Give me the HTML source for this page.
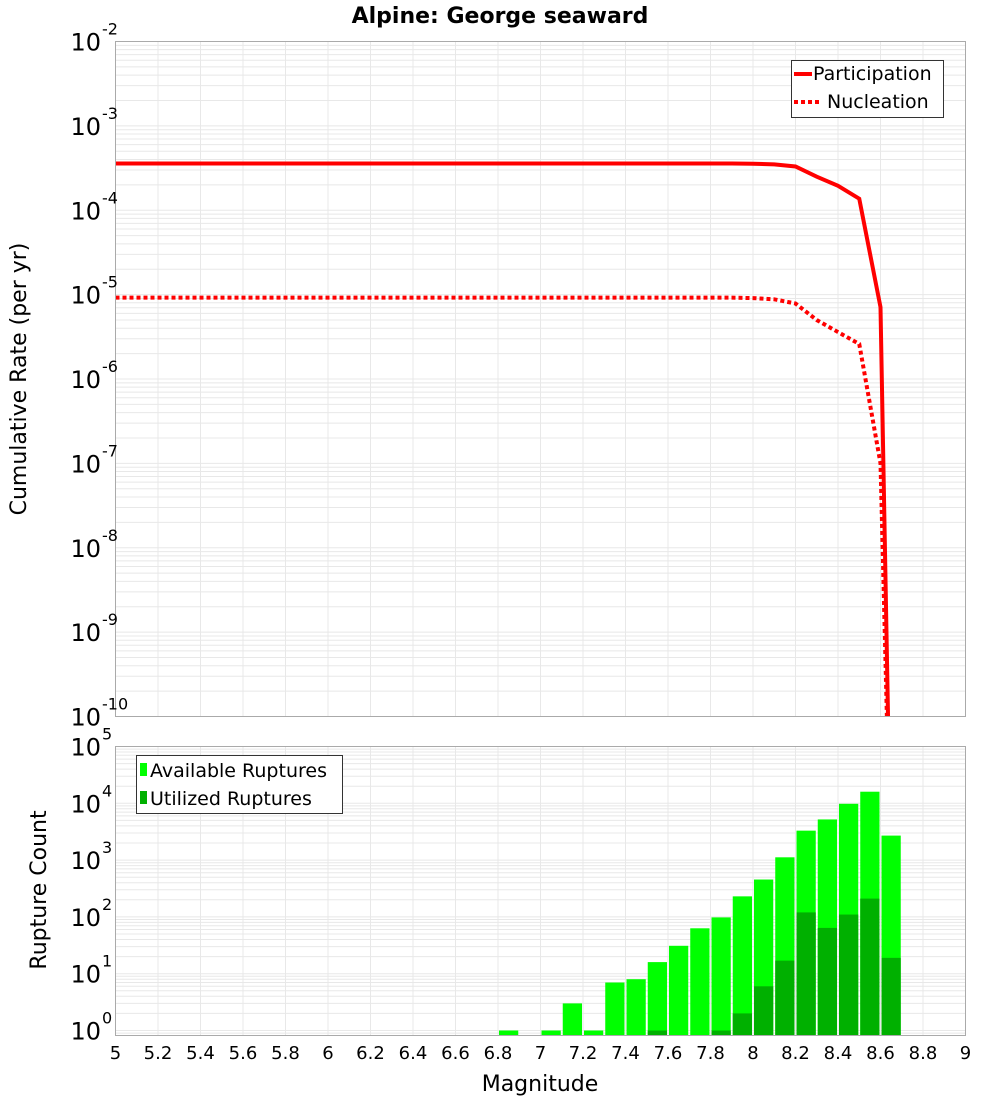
<!DOCTYPE html>
<html><head><meta charset="utf-8"><style>
body{margin:0;background:#fff;}
svg{display:block;font-family:"DejaVu Sans","Liberation Sans",sans-serif;}
</style></head><body>
<svg id="chart" width="1000" height="1100" viewBox="0 0 1000 1100" xmlns="http://www.w3.org/2000/svg">
<text x="500" y="23" text-anchor="middle" font-size="22" font-weight="bold">Alpine: George seaward</text>
<g id="topPanel"></g>
<g id="botPanel"></g>
<text x="540" y="1091" text-anchor="middle" font-size="22">Magnitude</text>
<text transform="translate(26,379) rotate(-90)" text-anchor="middle" font-size="22">Cumulative Rate (per yr)</text>
<text transform="translate(46,890) rotate(-90)" text-anchor="middle" font-size="22">Rupture Count</text>
</svg>
<script>
const lineMags=[5.0,7.9,8.0,8.1,8.2,8.3,8.4,8.5,8.6,8.65];
const participation=[3.58e-4,3.58e-4,3.56e-4,3.5e-4,3.3e-4,2.5e-4,1.95e-4,1.37e-4,7.1e-6,1e-12];
const nucleation=[9.2e-6,9.2e-6,9.1e-6,8.8e-6,7.85e-6,5.0e-6,3.6e-6,2.6e-6,1e-7,1e-12];
const barMags=[6.85,6.95,7.05,7.15,7.25,7.35,7.45,7.55,7.65,7.75,7.85,7.95,8.05,8.15,8.25,8.35,8.45,8.55,8.65];
const available=[1,0,1,3,1,7,8,16,31,63,98,230,455,1120,3300,5200,9800,16000,2700];
const utilized=[0,0,0,0,0,0,0,1,0,0,1,2,6,17,120,64,110,210,19];
const xTicks=[5,5.2,5.4,5.6,5.8,6,6.2,6.4,6.6,6.8,7,7.2,7.4,7.6,7.8,8,8.2,8.4,8.6,8.8,9];
const topExps=[-2,-3,-4,-5,-6,-7,-8,-9,-10];
const botExps=[5,4,3,2,1,0];

const NS="http://www.w3.org/2000/svg";
const L=115.5,R=965.5;
const X=m=>L+(m-5)/4*(R-L);
const TT=41.5,TB=716.5;
const YT=v=>TT+(-2-Math.log10(v))*(TB-TT)/8;
const BT=746.5,BB=1035.5,BP=56.8;
const YB=v=>BT+(5-Math.log10(v))*BP;
function mk(tag,attrs,parent){const e=document.createElementNS(NS,tag);for(const k in attrs)e.setAttribute(k,attrs[k]);parent.appendChild(e);return e;}
const topG=document.getElementById('topPanel'),botG=document.getElementById('botPanel');
function grid(g,y0,y1,yf,lo,hi){
  for(const m of xTicks){const l=mk('line',{x1:X(m),x2:X(m),y1:y0,y2:y1,stroke:'#e8e8e8','stroke-width':1},g);
    
    }
  for(let e=lo;e<hi;e++)for(let k=1;k<10;k++){const y=yf(k*Math.pow(10,e));if(y<y0||y>y1)continue;
    const l=mk('line',{x1:L,x2:R,y1:y,y2:y,stroke:'#e8e8e8','stroke-width':1},g);
    
    }
}
function ylab(g,e,y){const t=mk('text',{x:101,y:y+9,'text-anchor':'end','font-size':24},g);t.textContent='10';
  
  
  const s=mk('text',{x:102,y:y-7,'font-size':16},g);s.textContent=String(e);
  
  }
// top panel
grid(topG,TT,TB,YT,-10,-2);
const clip=mk('clipPath',{id:'cp'},topG);mk('rect',{x:L,y:TT,width:R-L,height:TB-TT},clip);
function path(vals,dash,name){let d='';lineMags.forEach((m,i)=>{d+=(i?'L':'M')+X(m)+','+YT(vals[i]);});
  const p=mk('path',{d:d,fill:'none',stroke:'#ff0000','stroke-width':4,'clip-path':'url(#cp)'},topG);
  if(dash)p.setAttribute('stroke-dasharray','4,3');
  
  }
path(participation,false,'participation-line');
path(nucleation,true,'nucleation-line');
const tf=mk('rect',{x:L,y:TT,width:R-L,height:TB-TT,fill:'none',stroke:'#aaa'},topG);


topExps.forEach(e=>ylab(topG,e,YT(Math.pow(10,e))));
const lg=mk('g',{},topG);


mk('rect',{x:791.5,y:60.5,width:152,height:57,fill:'#fff',stroke:'#333'},lg);
mk('line',{x1:794,x2:812,y1:74,y2:74,stroke:'#f00','stroke-width':4},lg);
mk('line',{x1:794,x2:822,y1:102,y2:102,stroke:'#f00','stroke-width':4,'stroke-dasharray':'4,3'},lg);
let t=mk('text',{x:813,y:80,'font-size':19},lg);t.textContent='Participation';


t=mk('text',{x:827,y:108,'font-size':19},lg);t.textContent='Nucleation';


// bottom panel
grid(botG,BT,BB,YB,-1,5);
const bw=X(0.1+5)-X(5);
barMags.forEach((m,i)=>{
  if(available[i]>0){const y=YB(available[i]);const r=mk('rect',{x:X(m)-bw/2+1,y:y,width:bw-2,height:BB-y,fill:'#00ff00'},botG);
    
    }
  if(utilized[i]>0){const y=YB(utilized[i]);const r=mk('rect',{x:X(m)-bw/2+1,y:y,width:bw-2,height:BB-y,fill:'#00b000'},botG);
    
    }
});
const bf=mk('rect',{x:L,y:BT,width:R-L,height:BB-BT,fill:'none',stroke:'#aaa'},botG);


botExps.forEach(e=>ylab(botG,e,YB(Math.pow(10,e))));
xTicks.forEach(m=>{const tx=mk('text',{x:X(m),y:1059,'text-anchor':'middle','font-size':18},botG);tx.textContent=String(m);
  
  });
const lg2=mk('g',{},botG);


mk('rect',{x:136.5,y:755.5,width:206,height:58,fill:'#fff',stroke:'#333'},lg2);
mk('rect',{x:140,y:763,width:7,height:13,fill:'#00ff00'},lg2);
mk('rect',{x:140,y:791,width:7,height:13,fill:'#00b000'},lg2);
t=mk('text',{x:150,y:777,'font-size':19},lg2);t.textContent='Available Ruptures';


t=mk('text',{x:150,y:805,'font-size':19},lg2);t.textContent='Utilized Ruptures';


</script>
</body></html>
